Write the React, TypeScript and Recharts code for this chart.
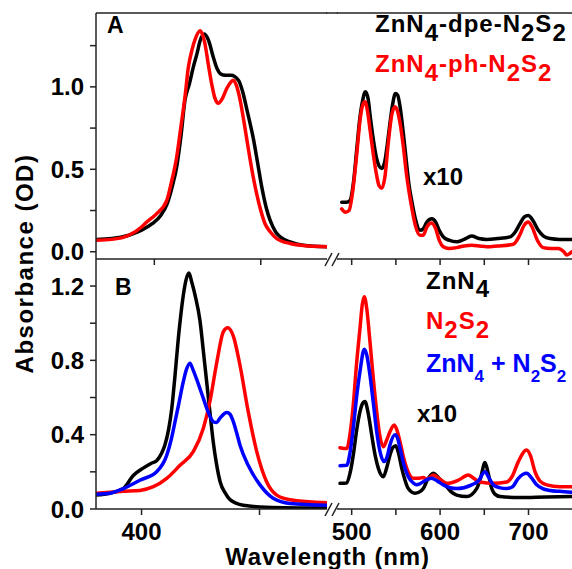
import React from 'react';
import { LineChart, Line, XAxis, YAxis, ReferenceLine } from 'recharts';

const FONT = '"Liberation Sans", Arial, Helvetica, sans-serif';
const AXIS = '#222';

type Pt = [number, number];

// ---------- Panel A (wavelength nm, absorbance OD; right part shown x10) ----------
const A_DPE_SORET: Pt[] = [
  [372.6, 0.075], [380, 0.08], [388, 0.1], [394, 0.13], [399, 0.17], [403, 0.22], [406, 0.29],
  [408.5, 0.4], [410.5, 0.515], [412.5, 0.7], [414.4, 0.92], [416.5, 1.02], [418.3, 1.12],
  [420, 1.2], [421.5, 1.28], [423.5, 1.32], [425.5, 1.28], [427.7, 1.18], [429.5, 1.11],
  [431, 1.08], [433.5, 1.07], [436, 1.07], [439.5, 1.04], [441.5, 0.97], [443.5, 0.86],
  [446.6, 0.68], [448.5, 0.54], [450.5, 0.39], [452.5, 0.27], [454.4, 0.19], [457, 0.12],
  [459.1, 0.09], [463.8, 0.06], [470, 0.04], [481.1, 0.03],
];
const A_PH_SORET: Pt[] = [
  [372.6, 0.07], [380, 0.075], [388, 0.1], [394, 0.15], [396, 0.175], [401, 0.23], [405.8, 0.31],
  [408, 0.42], [410.5, 0.575], [412.5, 0.76], [414.4, 0.94], [416, 1.12], [417.6, 1.22],
  [419.5, 1.3], [421.5, 1.34], [422.8, 1.31], [423.8, 1.26], [425.3, 1.14], [426.9, 1.02],
  [428.5, 0.93], [430, 0.9], [432, 0.93], [434, 0.99], [436, 1.03], [437.1, 1.04], [438.5, 1.01],
  [440.3, 0.92], [442.2, 0.78], [444.2, 0.62], [446.2, 0.47], [448.1, 0.35], [450, 0.25],
  [452, 0.17], [454.5, 0.12], [457.5, 0.08], [463.8, 0.05], [470, 0.038], [481.1, 0.03],
];
const A_DPE_Q: Pt[] = [
  [488.7, 0.3], [494, 0.3], [498, 0.31], [502, 0.42], [505.7, 0.62], [509, 0.8], [512.5, 0.92],
  [515.5, 0.97], [518.5, 0.93], [521, 0.82], [524.5, 0.68], [528, 0.57], [531, 0.52], [534, 0.505],
  [537.5, 0.55], [540.5, 0.66], [543.3, 0.78], [546.5, 0.9], [549.5, 0.96], [552, 0.95],
  [555, 0.87], [558.4, 0.72], [562, 0.54], [565, 0.4], [567.9, 0.31], [572, 0.2], [577.3, 0.13],
  [581, 0.14], [585, 0.18], [590.5, 0.2], [595, 0.18], [599, 0.13], [603.6, 0.09], [610, 0.07],
  [618.8, 0.06], [627, 0.075], [635.8, 0.095], [644, 0.08], [652.7, 0.075], [665, 0.08],
  [679.1, 0.09], [685, 0.12], [690.4, 0.17], [695, 0.21], [699.8, 0.22], [705, 0.19],
  [711.1, 0.13], [717, 0.095], [724.3, 0.08], [735, 0.075], [748.9, 0.075],
];
const A_PH_Q: Pt[] = [
  [488.7, 0.26], [493, 0.24], [497, 0.25], [501, 0.36], [505.7, 0.59], [509.5, 0.8], [512.5, 0.89],
  [515.1, 0.91], [518, 0.85], [521, 0.73], [524.5, 0.59], [528, 0.47], [531, 0.4], [534, 0.385],
  [537.5, 0.45], [541.4, 0.66], [545, 0.82], [549, 0.88], [552, 0.85], [555, 0.77], [558.4, 0.64],
  [562, 0.47], [565, 0.36], [567.9, 0.27], [572, 0.16], [577.3, 0.1], [581, 0.1], [585, 0.15],
  [590.5, 0.175], [595, 0.14], [599, 0.07], [603.6, 0.03], [610, 0.02], [618.8, 0.025],
  [627, 0.035], [635.8, 0.04], [645, 0.035], [652.7, 0.03], [665, 0.035], [682.8, 0.045],
  [690, 0.1], [695, 0.16], [699.8, 0.18], [704, 0.15], [710, 0.07], [716.7, 0.025], [725, 0.02],
  [733.7, 0.02], [740, 0.0], [743.2, -0.02], [748.9, 0.0],
];

// ---------- Panel B ----------
const B_ZN_SORET: Pt[] = [
  [380.7, 0.075], [386.6, 0.085], [392.3, 0.11], [396.5, 0.18], [400.7, 0.22], [404, 0.245],
  [406.4, 0.26], [408.5, 0.3], [409.9, 0.345], [411.5, 0.43], [412.8, 0.54], [414.2, 0.72],
  [415.6, 0.92], [416.7, 1.05], [417.7, 1.15], [419, 1.24], [420.1, 1.27], [421.3, 1.22],
  [422.7, 1.15], [424.8, 1.01], [426.2, 0.85], [427.6, 0.685], [429, 0.52], [430.4, 0.36],
  [431.8, 0.24], [433.3, 0.147], [435.5, 0.085], [437.5, 0.05], [443.1, 0.02], [453, 0.01],
  [478.6, 0.005],
];
const B_NS_SORET: Pt[] = [
  [380.7, 0.085], [392.3, 0.095], [399.3, 0.1], [405, 0.12], [410.7, 0.165], [416.3, 0.235],
  [422, 0.31], [426.2, 0.435], [429, 0.58], [431.9, 0.79], [434.7, 0.955], [436.5, 0.975],
  [438.9, 0.93], [441.7, 0.775], [445.2, 0.525], [448.8, 0.31], [453, 0.147], [457.3, 0.075],
  [462.9, 0.05], [478.6, 0.034],
];
const B_MIX_SORET: Pt[] = [
  [380.7, 0.08], [386.6, 0.085], [392.3, 0.11], [399.3, 0.155], [406.4, 0.2], [410.7, 0.29],
  [412.5, 0.37], [414.2, 0.47], [416, 0.58], [417.7, 0.685], [419, 0.75], [420.5, 0.785],
  [421.8, 0.75], [423.3, 0.7], [426.2, 0.595], [428.3, 0.52], [430.4, 0.47], [431.8, 0.465],
  [433.3, 0.49], [436.1, 0.52], [437.5, 0.51], [438.9, 0.47], [440.3, 0.41], [441.7, 0.345],
  [445.2, 0.235], [450.2, 0.13], [455.8, 0.058], [462.9, 0.03], [478.6, 0.02],
];
const B_ZN_Q: Pt[] = [
  [486.8, 0.138], [494.4, 0.14], [498, 0.19], [501.8, 0.29], [505.5, 0.42], [509.4, 0.524],
  [512.5, 0.57], [515.1, 0.578], [518.5, 0.52], [522.6, 0.4], [526.5, 0.29], [530.1, 0.22],
  [535.8, 0.174], [539.5, 0.22], [543.3, 0.29], [546.5, 0.33], [549.8, 0.34], [553, 0.3],
  [556.6, 0.22], [560, 0.16], [564, 0.11], [571.6, 0.085], [576, 0.09], [581, 0.11], [586, 0.16],
  [592.3, 0.192], [598, 0.17], [605.6, 0.13], [612, 0.095], [618.8, 0.075], [630.1, 0.067],
  [641.4, 0.11], [646, 0.17], [650.8, 0.25], [654.5, 0.19], [658.4, 0.11], [662, 0.08],
  [667.8, 0.067], [690, 0.062], [720, 0.065], [748.9, 0.067],
];
const B_NS_Q: Pt[] = [
  [486.8, 0.33], [494.4, 0.325], [498, 0.4], [501.8, 0.56], [505.5, 0.78], [509.4, 0.973],
  [512, 1.1], [514.3, 1.143], [517, 1.08], [520.7, 0.9], [524.5, 0.7], [528.3, 0.524], [532, 0.39],
  [535.8, 0.335], [539.5, 0.37], [543.3, 0.416], [548.2, 0.452], [551.5, 0.42], [554.7, 0.362],
  [558.5, 0.28], [562.2, 0.22], [569.7, 0.165], [575, 0.165], [581, 0.17], [585, 0.16],
  [592.3, 0.183], [600, 0.16], [607.5, 0.138], [620.6, 0.155], [631.9, 0.183], [638, 0.165],
  [645.1, 0.145], [660.2, 0.138], [675.3, 0.145], [682, 0.18], [688.5, 0.255], [697.9, 0.318],
  [702, 0.29], [707.4, 0.2], [713, 0.15], [720.6, 0.13], [735.6, 0.12], [748.9, 0.12],
];
const B_MIX_Q: Pt[] = [
  [486.8, 0.233], [494.4, 0.235], [498, 0.3], [501.8, 0.435], [505.5, 0.6], [509.4, 0.74],
  [514.3, 0.86], [517, 0.83], [520.7, 0.72], [524.5, 0.57], [528.3, 0.416], [532, 0.31],
  [536.6, 0.255], [540, 0.28], [543.3, 0.345], [549, 0.4], [552, 0.38], [554.7, 0.327], [559, 0.24],
  [564, 0.174], [569.7, 0.14], [573.5, 0.13], [577, 0.135], [581, 0.147], [590.5, 0.165],
  [597, 0.15], [603.6, 0.13], [618.8, 0.11], [635.8, 0.13], [643, 0.15], [650.8, 0.2], [655, 0.17],
  [660.2, 0.13], [667, 0.115], [675.3, 0.11], [682, 0.12], [688.5, 0.165], [697.9, 0.192],
  [703, 0.17], [709.3, 0.13], [716, 0.11], [724.3, 0.1], [735, 0.095], [748.9, 0.09],
];

// ---------- axes ----------
const A_Y_DOMAIN: [number, number] = [-0.044, 1.448];
const B_Y_DOMAIN: [number, number] = [0, 1.3455];
const A_LEFT_X_DOMAIN: [number, number] = [372.6, 481.1];
const B_LEFT_X_DOMAIN: [number, number] = [380.7, 478.6];
const RIGHT_X_DOMAIN: [number, number] = [483.4, 749.2];

const A_Y_TICKS = [0, 0.25, 0.5, 0.75, 1.0, 1.25];
const A_Y_LABELS = ['0.0', '', '0.5', '', '1.0', ''];
const B_Y_TICKS = [0, 0.2, 0.4, 0.6, 0.8, 1.0, 1.2];
const B_Y_LABELS = ['0.0', '', '0.4', '', '0.8', '', '1.2'];
const LEFT_X_TICKS = [400, 450];
const A_LEFT_X_LABELS = ['', ''];
const B_LEFT_X_LABELS = ['400', ''];
const RIGHT_X_TICKS = [500, 550, 600, 650, 700];
const A_RIGHT_X_LABELS = ['', '', '', '', ''];
const B_RIGHT_X_LABELS = ['500', '', '600', '', '700'];

const toPts = (arr: Pt[]) => arr.map(([wl, abs]) => ({ wl, abs }));

type Series = { data: Pt[]; color: string };

type SegProps = {
  left: number; top: number; width: number; height: number; marginTop: number; marginLeft: number;
  yWidth: number; xDomain: [number, number]; xTicks: number[]; xLabels: string[];
  xAxisHeight: number; yDomain: [number, number]; yTicks?: number[]; yLabels?: string[];
  series: Series[]; topBorder: boolean;
};

const tickStyle = { fontSize: 24, fontWeight: 700, fill: '#000', fontFamily: FONT };

function Segment(p: SegProps) {
  return (
    <div style={{ position: 'absolute', left: p.left, top: p.top }}>
      <LineChart width={p.width} height={p.height} margin={{ top: p.marginTop, right: 0, bottom: 0, left: p.marginLeft }}>
        <XAxis
          type="number" dataKey="wl" domain={p.xDomain} ticks={p.xTicks} allowDataOverflow interval={0}
          tickFormatter={(v: number, i: number) => p.xLabels[i] ?? ''}
          height={p.xAxisHeight}
          axisLine={{ stroke: AXIS, strokeWidth: 1.5 }}
          tickLine={{ stroke: AXIS, strokeWidth: 1.5 }}
          tickSize={6} tickMargin={8} tick={tickStyle}
        />
        <YAxis
          type="number" dataKey="abs" domain={p.yDomain} ticks={p.yTicks} allowDataOverflow interval={0}
          hide={!p.yTicks} width={p.yWidth}
          tickFormatter={(v: number, i: number) => (p.yLabels ? p.yLabels[i] ?? '' : '')}
          axisLine={{ stroke: AXIS, strokeWidth: 1.5 }}
          tickLine={{ stroke: AXIS, strokeWidth: 1.5 }}
          tickSize={6} tickMargin={6} tick={tickStyle}
        />
        {p.topBorder && <ReferenceLine y={p.yDomain[1]} stroke={AXIS} strokeWidth={1.5} />}
        {p.series.map((s, i) => (
          <Line
            key={i} data={toPts(s.data)} dataKey="abs" type="monotone" stroke={s.color}
            strokeWidth={3.5} dot={false} activeDot={false} isAnimationActive={false}
            strokeLinejoin="round" strokeLinecap="round"
          />
        ))}
      </LineChart>
    </div>
  );
}

const txt = { fontFamily: FONT, fontWeight: 700 } as const;

function Overlay() {
  const brk = (y: number) => (
    <g stroke={AXIS} strokeWidth={1.5}>
      <line x1={325} y1={y + 7} x2={332} y2={y - 6} />
      <line x1={332} y1={y + 7} x2={339} y2={y - 6} />
    </g>
  );
  return (
    <svg width={572} height={569} style={{ position: 'absolute', left: 0, top: 0, pointerEvents: 'none' }}>
      <line x1={326} y1={13} x2={338} y2={13} stroke={AXIS} strokeWidth={1.5} />
      {brk(259)}
      {brk(509)}
      <text x={107} y={33} fontSize={23} {...txt}>A</text>
      <text x={115} y={295} fontSize={23} {...txt}>B</text>
      <text x={375} y={32} fontSize={24} fill="#000" {...txt} style={{ letterSpacing: 1 }}>
        ZnN<tspan dy={9}>4</tspan><tspan dy={-9}>-dpe-N</tspan><tspan dy={9}>2</tspan>
        <tspan dy={-9}>S</tspan><tspan dy={9}>2</tspan>
      </text>
      <text x={375} y={72} fontSize={24} fill="#ff0000" {...txt} style={{ letterSpacing: 1 }}>
        ZnN<tspan dy={9}>4</tspan><tspan dy={-9}>-ph-N</tspan><tspan dy={9}>2</tspan>
        <tspan dy={-9}>S</tspan><tspan dy={9}>2</tspan>
      </text>
      <text x={423} y={185} fontSize={24} fill="#000" {...txt}>x10</text>
      <text x={426} y={289} fontSize={24} fill="#000" {...txt} style={{ letterSpacing: 1 }}>
        ZnN<tspan dy={8}>4</tspan>
      </text>
      <text x={426} y={329} fontSize={24} fill="#ff0000" {...txt} style={{ letterSpacing: 1 }}>
        N<tspan dy={9}>2</tspan><tspan dy={-9}>S</tspan><tspan dy={9}>2</tspan>
      </text>
      <text x={426} y={372} fontSize={25} fill="#0000ff" {...txt}>
        ZnN<tspan dy={10} fontSize={17}>4</tspan><tspan dy={-10}> + N</tspan>
        <tspan dy={10} fontSize={17}>2</tspan><tspan dy={-10}>S</tspan><tspan dy={10} fontSize={17}>2</tspan>
      </text>
      <text x={417} y={422} fontSize={24} fill="#000" {...txt}>x10</text>
      <text x={327.5} y={565} fontSize={24} fill="#000" textAnchor="middle" {...txt} style={{ letterSpacing: 0.8 }}>
        Wavelength (nm)
      </text>
      <text x={33} y={263.5} fontSize={24} fill="#000" textAnchor="middle" transform="rotate(-90 33 263.5)" {...txt}
        style={{ letterSpacing: 1.5 }}>
        Absorbance (OD)
      </text>
    </svg>
  );
}

export default function App() {
  return (
    <div style={{ position: 'absolute', left: 0, top: 0, width: 572, height: 569, background: '#fff', overflow: 'hidden' }}>
      <Segment left={0} top={0} width={327} height={271} marginTop={13} marginLeft={0} yWidth={96}
        xDomain={A_LEFT_X_DOMAIN} xTicks={LEFT_X_TICKS} xLabels={A_LEFT_X_LABELS} xAxisHeight={12}
        yDomain={A_Y_DOMAIN} yTicks={A_Y_TICKS} yLabels={A_Y_LABELS} topBorder
        series={[{ data: A_DPE_SORET, color: '#000' }, { data: A_PH_SORET, color: '#ff0000' }]} />
      <Segment left={317} top={0} width={255} height={271} marginTop={13} marginLeft={20} yWidth={0}
        xDomain={RIGHT_X_DOMAIN} xTicks={RIGHT_X_TICKS} xLabels={A_RIGHT_X_LABELS} xAxisHeight={12}
        yDomain={A_Y_DOMAIN} topBorder
        series={[{ data: A_DPE_Q, color: '#000' }, { data: A_PH_Q, color: '#ff0000' }]} />
      <Segment left={0} top={249} width={327} height={300} marginTop={10} marginLeft={0} yWidth={96}
        xDomain={B_LEFT_X_DOMAIN} xTicks={LEFT_X_TICKS} xLabels={B_LEFT_X_LABELS} xAxisHeight={40}
        yDomain={B_Y_DOMAIN} yTicks={B_Y_TICKS} yLabels={B_Y_LABELS} topBorder={false}
        series={[{ data: B_ZN_SORET, color: '#000' }, { data: B_NS_SORET, color: '#ff0000' }, { data: B_MIX_SORET, color: '#0000ff' }]} />
      <Segment left={317} top={249} width={255} height={300} marginTop={10} marginLeft={20} yWidth={0}
        xDomain={RIGHT_X_DOMAIN} xTicks={RIGHT_X_TICKS} xLabels={B_RIGHT_X_LABELS} xAxisHeight={40}
        yDomain={B_Y_DOMAIN} topBorder={false}
        series={[{ data: B_ZN_Q, color: '#000' }, { data: B_NS_Q, color: '#ff0000' }, { data: B_MIX_Q, color: '#0000ff' }]} />
      <Overlay />
    </div>
  );
}
